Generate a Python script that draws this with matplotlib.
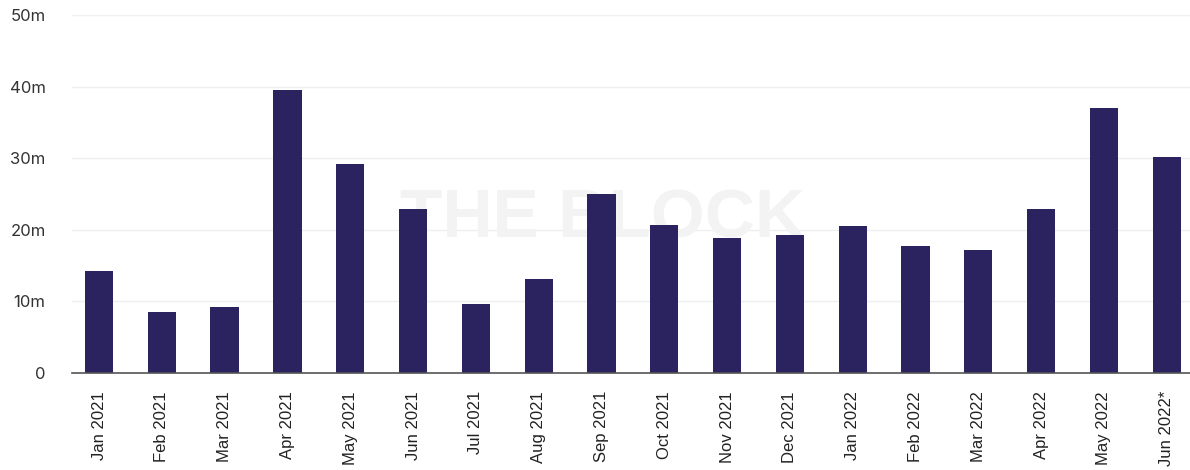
import matplotlib.pyplot as plt
import numpy as np
from matplotlib.ticker import FuncFormatter

months = [
    "Jan 2021", "Feb 2021", "Mar 2021", "Apr 2021", "May 2021", "Jun 2021",
    "Jul 2021", "Aug 2021", "Sep 2021", "Oct 2021", "Nov 2021", "Dec 2021",
    "Jan 2022", "Feb 2022", "Mar 2022", "Apr 2022", "May 2022", "Jun 2022*",
]
values_m = [
    14.2, 8.5, 9.2, 39.5, 29.2, 22.9,
    9.6, 13.1, 25.0, 20.7, 18.9, 19.3,
    20.5, 17.7, 17.2, 22.9, 37.0, 30.2,
]
y_ticks = [0, 10, 20, 30, 40, 50]

BAR_COLOR = "#2b2260"

fig = plt.figure(figsize=(11.9, 4.7), dpi=100)
ax = fig.add_axes([72 / 1190, 97 / 470, 1118 / 1190, 358 / 470])

x = np.arange(len(months))
ax.bar(x, values_m, width=0.45, color=BAR_COLOR, zorder=3)

# watermark
ax.text(0.475, 0.43, "THE BLOCK", transform=ax.transAxes, ha="center", va="center",
        fontsize=50, fontweight="bold", color="#f3f3f3", family="Liberation Sans", zorder=1)

ax.set_xlim(-0.43, 17.37)
ax.set_ylim(0, 50)
ax.set_yticks(y_ticks)
ax.yaxis.set_major_formatter(FuncFormatter(lambda v, _: "0" if v == 0 else f"{int(v)}m"))
ax.set_xticks(x)
ax.set_xticklabels(months, rotation=90, family="Liberation Sans", fontsize=12, color="#222222")
for lab in ax.get_yticklabels():
    lab.set_family("Inter")
    lab.set_fontsize(12)
    lab.set_color("#333333")

ax.grid(axis="y", color="#efefef", linewidth=1, zorder=0)
ax.set_axisbelow(True)
for side in ["top", "right", "left"]:
    ax.spines[side].set_visible(False)
ax.spines["bottom"].set_color("#555555")
ax.spines["bottom"].set_linewidth(1.2)
ax.spines["bottom"].set_zorder(4)
ax.tick_params(axis="y", length=0, pad=19)
ax.tick_params(axis="x", length=0, pad=13)

fig.savefig("out.png", dpi=100)
